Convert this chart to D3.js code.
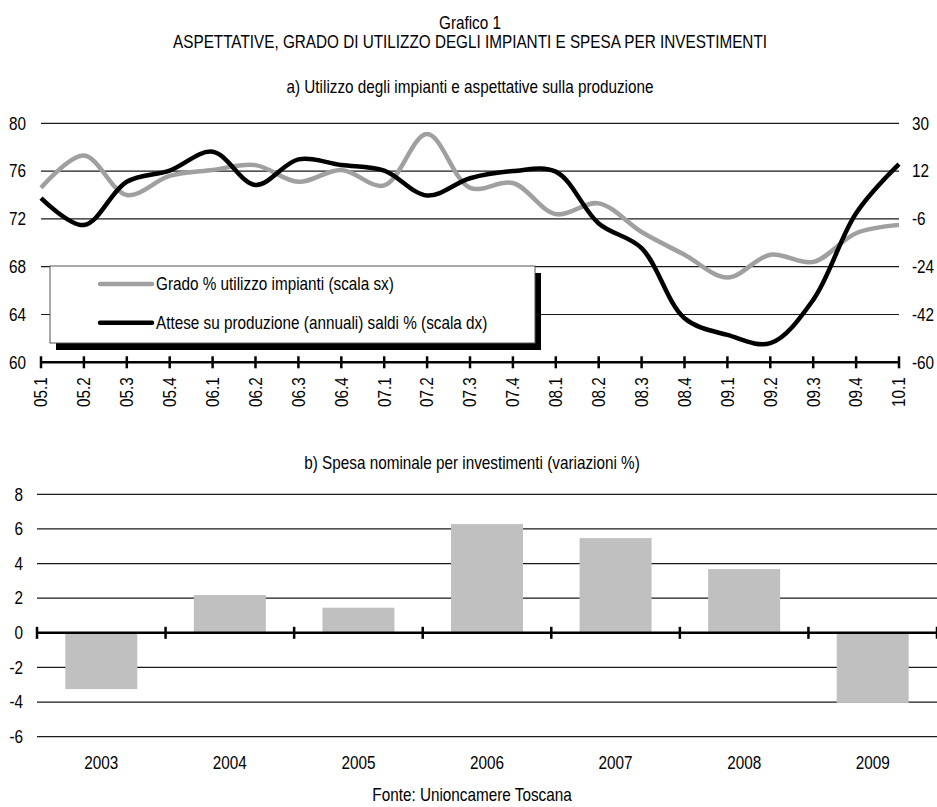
<!DOCTYPE html>
<html>
<head>
<meta charset="utf-8">
<script src="https://cdn.jsdelivr.net/npm/d3@7"></script>
<style>
  html, body { margin: 0; padding: 0; background: #fff; }
  svg { display: block; }
  text { font-family: 'Liberation Sans', Arial, sans-serif; font-size: 18px; fill: #000; }
</style>
</head>
<body>
<svg id="chart" width="937" height="807"></svg>
<script>
// Panel a) quarterly series
const quarters = ["05.1","05.2","05.3","05.4","06.1","06.2","06.3","06.4","07.1","07.2","07.3","07.4",
                  "08.1","08.2","08.3","08.4","09.1","09.2","09.3","09.4","10.1"];
// Grado % utilizzo impianti (left scale)
const utilizzo = [74.6, 77.3, 74.0, 75.6, 76.1, 76.5, 75.1, 76.1, 74.8, 79.1, 74.6, 75.0,
                  72.4, 73.3, 70.9, 69.0, 67.1, 69.0, 68.4, 70.8, 71.5];
// Attese su produzione (annuali) saldi % (right scale)
const attese = [1.8, -8.3, 8.0, 12.2, 19.3, 6.8, 16.4, 14.3, 12.2, 2.8, 9.3, 12.0,
                11.8, -7.7, -17.0, -43.4, -49.7, -52.8, -36.5, -3.9, 14.6];
const leftTicks = [60, 64, 68, 72, 76, 80];
const rightTicks = [-60, -42, -24, -6, 12, 30];

// Panel b) annual investment spending
const years = ["2003","2004","2005","2006","2007","2008","2009"];
const spesa = [-3.25, 2.18, 1.45, 6.28, 5.47, 3.68, -4.05];
const barTicks = [-6, -4, -2, 0, 2, 4, 6, 8];

const svg = d3.select("#chart");
const NARROW = 0.85; // horizontal squeeze for a condensed look

// Text helper: places a condensed label at (x, y), optionally rotated
function label(parent, x, y, str, anchor = "start", rot = 0, dy = null) {
  const t = parent.append("text")
    .attr("transform", `translate(${x},${y}) rotate(${rot}) scale(${NARROW},1)`)
    .attr("text-anchor", anchor)
    .text(str);
  if (dy) t.attr("dy", dy);
  return t;
}

// Titles
label(svg, 470, 29, "Grafico 1", "middle");
label(svg, 470, 48, "ASPETTATIVE, GRADO DI UTILIZZO DEGLI IMPIANTI E SPESA PER INVESTIMENTI", "middle");
label(svg, 470, 93, "a) Utilizzo degli impianti e aspettative sulla produzione", "middle");

// ---------- Panel a ----------
const xA = d3.scaleLinear().domain([0, quarters.length - 1]).range([41, 899]);
const yL = d3.scaleLinear().domain([60, 80]).range([362.3, 123.3]);
const yR = d3.scaleLinear().domain([-60, 30]).range([362.3, 123.3]);

const gA = svg.append("g");
gA.selectAll("line.grid").data(leftTicks.slice(1)).join("line")
  .attr("x1", xA(0)).attr("x2", xA(quarters.length - 1))
  .attr("y1", d => yL(d)).attr("y2", d => yL(d))
  .attr("stroke", "#1a1a1a").attr("stroke-width", 1.2);

leftTicks.forEach(d => label(gA, 26, yL(d), d, "end", 0, "0.35em"));
rightTicks.forEach(d => label(gA, 912, yR(d), d, "start", 0, "0.35em"));

// Legend with drop shadow
const lg = gA.append("g");
lg.append("rect").attr("x", 56).attr("y", 273).attr("width", 485).attr("height", 77).attr("fill", "#000");
lg.append("rect").attr("x", 50).attr("y", 266).attr("width", 485).attr("height", 77)
  .attr("fill", "#fff").attr("stroke", "#555").attr("stroke-width", 1);
const legendItems = [
  {label: "Grado % utilizzo impianti (scala sx)", color: "#a0a0a0", y: 284},
  {label: "Attese su produzione (annuali) saldi % (scala dx)", color: "#000", y: 322.7}
];
legendItems.forEach(it => {
  lg.append("line").attr("x1", 100).attr("x2", 152).attr("y1", it.y).attr("y2", it.y)
    .attr("stroke", it.color).attr("stroke-width", 4.5).attr("stroke-linecap", "round");
  label(lg, 156, it.y, it.label, "start", 0, "0.35em");
});

// Series lines
const lineL = d3.line().x((d, i) => xA(i)).y(d => yL(d)).curve(d3.curveCatmullRom.alpha(0.5));
const lineR = d3.line().x((d, i) => xA(i)).y(d => yR(d)).curve(d3.curveCatmullRom.alpha(0.5));
gA.append("path").datum(utilizzo).attr("d", lineL).attr("fill", "none")
  .attr("stroke", "#a0a0a0").attr("stroke-width", 4.5).attr("stroke-linejoin", "round");
gA.append("path").datum(attese).attr("d", lineR).attr("fill", "none")
  .attr("stroke", "#000").attr("stroke-width", 4.5).attr("stroke-linejoin", "round");

// Bottom axis with quarter ticks
const axisY = yL(60);
gA.append("line").attr("x1", xA(0)).attr("x2", xA(quarters.length - 1))
  .attr("y1", axisY).attr("y2", axisY).attr("stroke", "#000").attr("stroke-width", 2.5);
gA.selectAll("line.qt").data(quarters).join("line")
  .attr("x1", (d, i) => xA(i)).attr("x2", (d, i) => xA(i))
  .attr("y1", axisY - 6).attr("y2", axisY + 6).attr("stroke", "#000").attr("stroke-width", 2.5);
quarters.forEach((q, i) => label(gA, xA(i), axisY + 15, q, "end", -90, "0.35em"));

// ---------- Panel b ----------
label(svg, 472, 469, "b) Spesa nominale per investimenti (variazioni %)", "middle");

const xB = d3.scaleBand().domain(years).range([37, 937]).paddingInner(0.44).paddingOuter(0.22);
const yB = d3.scaleLinear().domain([-6, 8]).range([736.7, 494.3]);
const gB = svg.append("g");

gB.selectAll("line.grid").data(barTicks.filter(d => d !== 0)).join("line")
  .attr("x1", 37).attr("x2", 937).attr("y1", d => yB(d)).attr("y2", d => yB(d))
  .attr("stroke", "#1a1a1a").attr("stroke-width", 1.2);
barTicks.forEach(d => label(gB, 23, yB(d), d, "end", 0, "0.35em"));

gB.selectAll("rect.bar").data(spesa).join("rect")
  .attr("x", (d, i) => xB(years[i])).attr("width", xB.bandwidth())
  .attr("y", d => yB(Math.max(0, d))).attr("height", d => Math.abs(yB(d) - yB(0)))
  .attr("fill", "#c0c0c0");

const zeroY = yB(0);
gB.append("line").attr("x1", 37).attr("x2", 937).attr("y1", zeroY).attr("y2", zeroY)
  .attr("stroke", "#000").attr("stroke-width", 2.5);
const bounds = years.map(y => xB(y) - xB.step() * xB.paddingInner() / 2).concat([937]);
gB.selectAll("line.bt").data(bounds).join("line")
  .attr("x1", d => d).attr("x2", d => d).attr("y1", zeroY - 6).attr("y2", zeroY + 6)
  .attr("stroke", "#000").attr("stroke-width", 2.5);

years.forEach(y => label(gB, xB(y) + xB.bandwidth() / 2, 763, y, "middle", 0, "0.35em"));

label(svg, 472, 801, "Fonte: Unioncamere Toscana", "middle");
</script>
</body>
</html>
